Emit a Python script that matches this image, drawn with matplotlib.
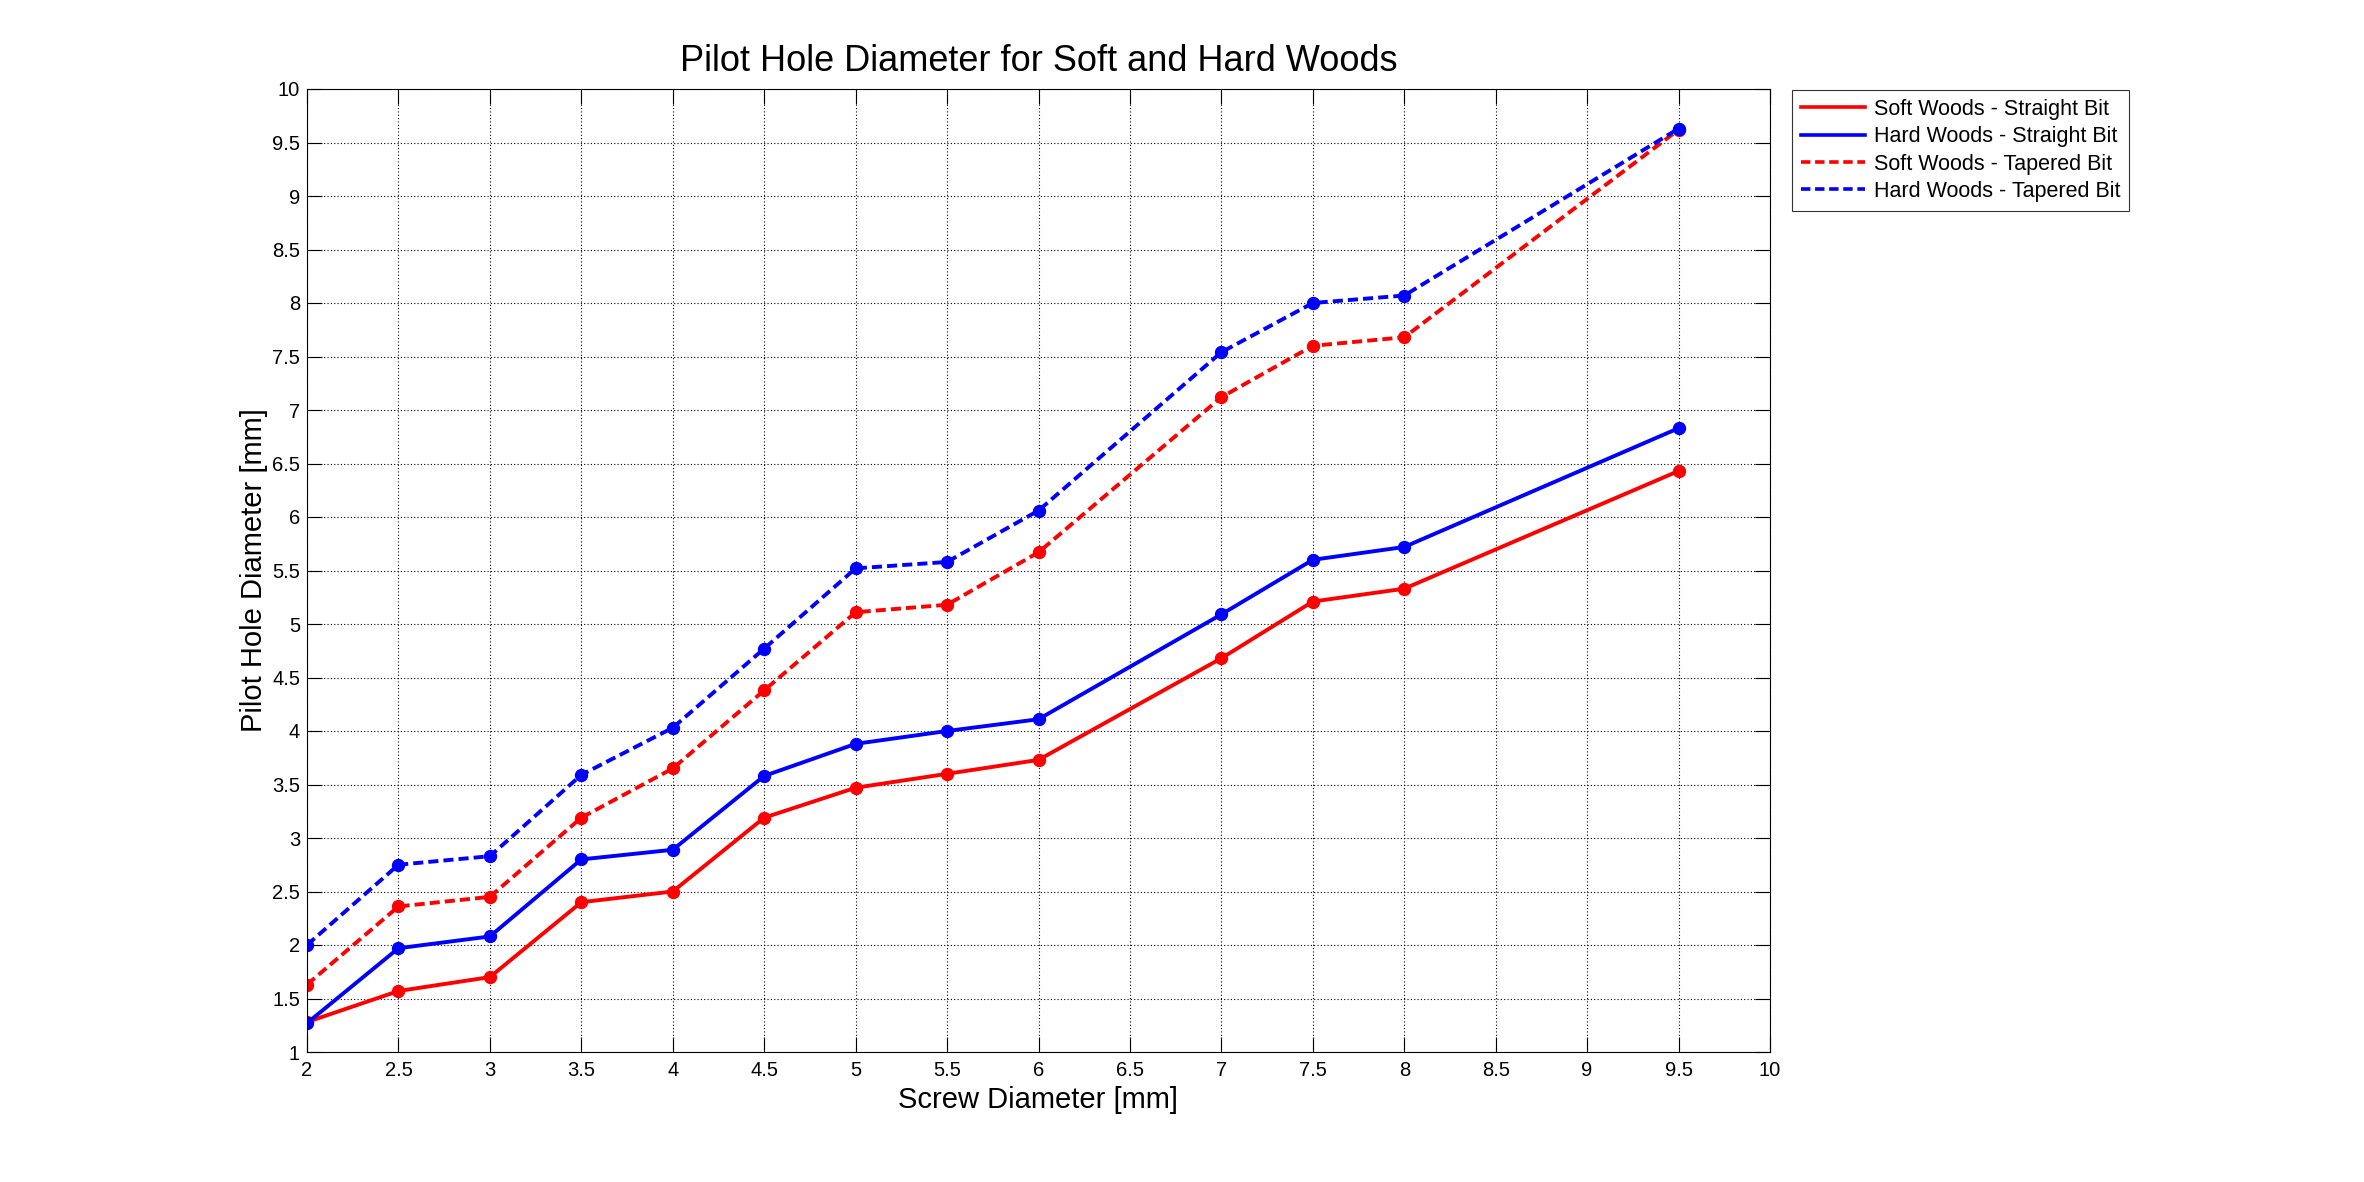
import matplotlib
matplotlib.use('Agg')
import numpy as np
import matplotlib.pyplot as plt
from matplotlib.ticker import FormatStrFormatter

screw = [2, 2.5, 3, 3.5, 4, 4.5, 5, 5.5, 6, 7, 7.5, 8, 9.5]
soft_straight = [1.28, 1.57, 1.70, 2.40, 2.50, 3.19, 3.47, 3.60, 3.73, 4.68, 5.21, 5.33, 6.43]
hard_straight = [1.27, 1.97, 2.08, 2.80, 2.89, 3.58, 3.88, 4.00, 4.11, 5.09, 5.60, 5.72, 6.83]
soft_tapered = [1.63, 2.36, 2.45, 3.19, 3.65, 4.38, 5.11, 5.18, 5.67, 7.12, 7.60, 7.68, 9.62]
hard_tapered = [2.00, 2.75, 2.83, 3.59, 4.03, 4.77, 5.52, 5.58, 6.06, 7.54, 8.00, 8.07, 9.63]
labels = ['Soft Woods - Straight Bit', 'Hard Woods - Straight Bit',
          'Soft Woods - Tapered Bit', 'Hard Woods - Tapered Bit']

plt.rcParams['font.family'] = ['Liberation Sans', 'DejaVu Sans']

W, H = 2364, 1182
fig = plt.figure(figsize=(W / 100, H / 100), dpi=100)
# axes box in pixels: left 307, right 1770, top 89, bottom 1052
ax = fig.add_axes([307 / W, 1 - 1052 / H, (1770 - 307) / W, (1052 - 89) / H])

dash = (0, (2.6, 1.3))
series = [(soft_straight, 'red', '-'), (hard_straight, 'blue', '-'),
          (soft_tapered, 'red', dash), (hard_tapered, 'blue', dash)]
handles = []
for (vals, col, ls), lab in zip(series, labels):
    ax.plot(screw, vals, color=col, linestyle=ls, linewidth=2.8,
            marker='o', markersize=8.6, markerfacecolor=col, markeredgecolor=col)
    h, = ax.plot([], [], color=col, linestyle=ls, linewidth=2.6, label=lab)
    handles.append(h)

ax.set_xlim(2, 10)
ax.set_ylim(1, 10)
ax.set_xticks(np.arange(2, 10.01, 0.5))
ax.set_yticks(np.arange(1, 10.01, 0.5))
ax.xaxis.set_major_formatter(FormatStrFormatter('%g'))
ax.yaxis.set_major_formatter(FormatStrFormatter('%g'))
ax.tick_params(direction='in', length=11, width=0.8, top=True, right=True,
               labelsize=14.5)
ax.tick_params(axis='x', pad=6.5)
ax.tick_params(axis='y', pad=5)
ax.grid(True, color='black', linestyle=(0, (1, 2)), linewidth=0.8)
for sp in ax.spines.values():
    sp.set_linewidth(0.8)

ax.set_title('Pilot Hole Diameter for Soft and Hard Woods', fontsize=26, pad=13)
ax.set_xlabel('Screw Diameter [mm]', fontsize=21, labelpad=4)
ax.set_ylabel('Pilot Hole Diameter [mm]', fontsize=21, labelpad=3)

leg = fig.legend(handles=handles, loc='upper left', bbox_to_anchor=(1792 / W, 1 - 90 / H),
                 fontsize=15.5, frameon=True, fancybox=False, edgecolor='black',
                 handlelength=3.0, borderpad=0.4, borderaxespad=0, labelspacing=0.3,
                 handletextpad=0.4)
leg.get_frame().set_linewidth(0.8)

fig.savefig('out.png', dpi=100, facecolor='white')
